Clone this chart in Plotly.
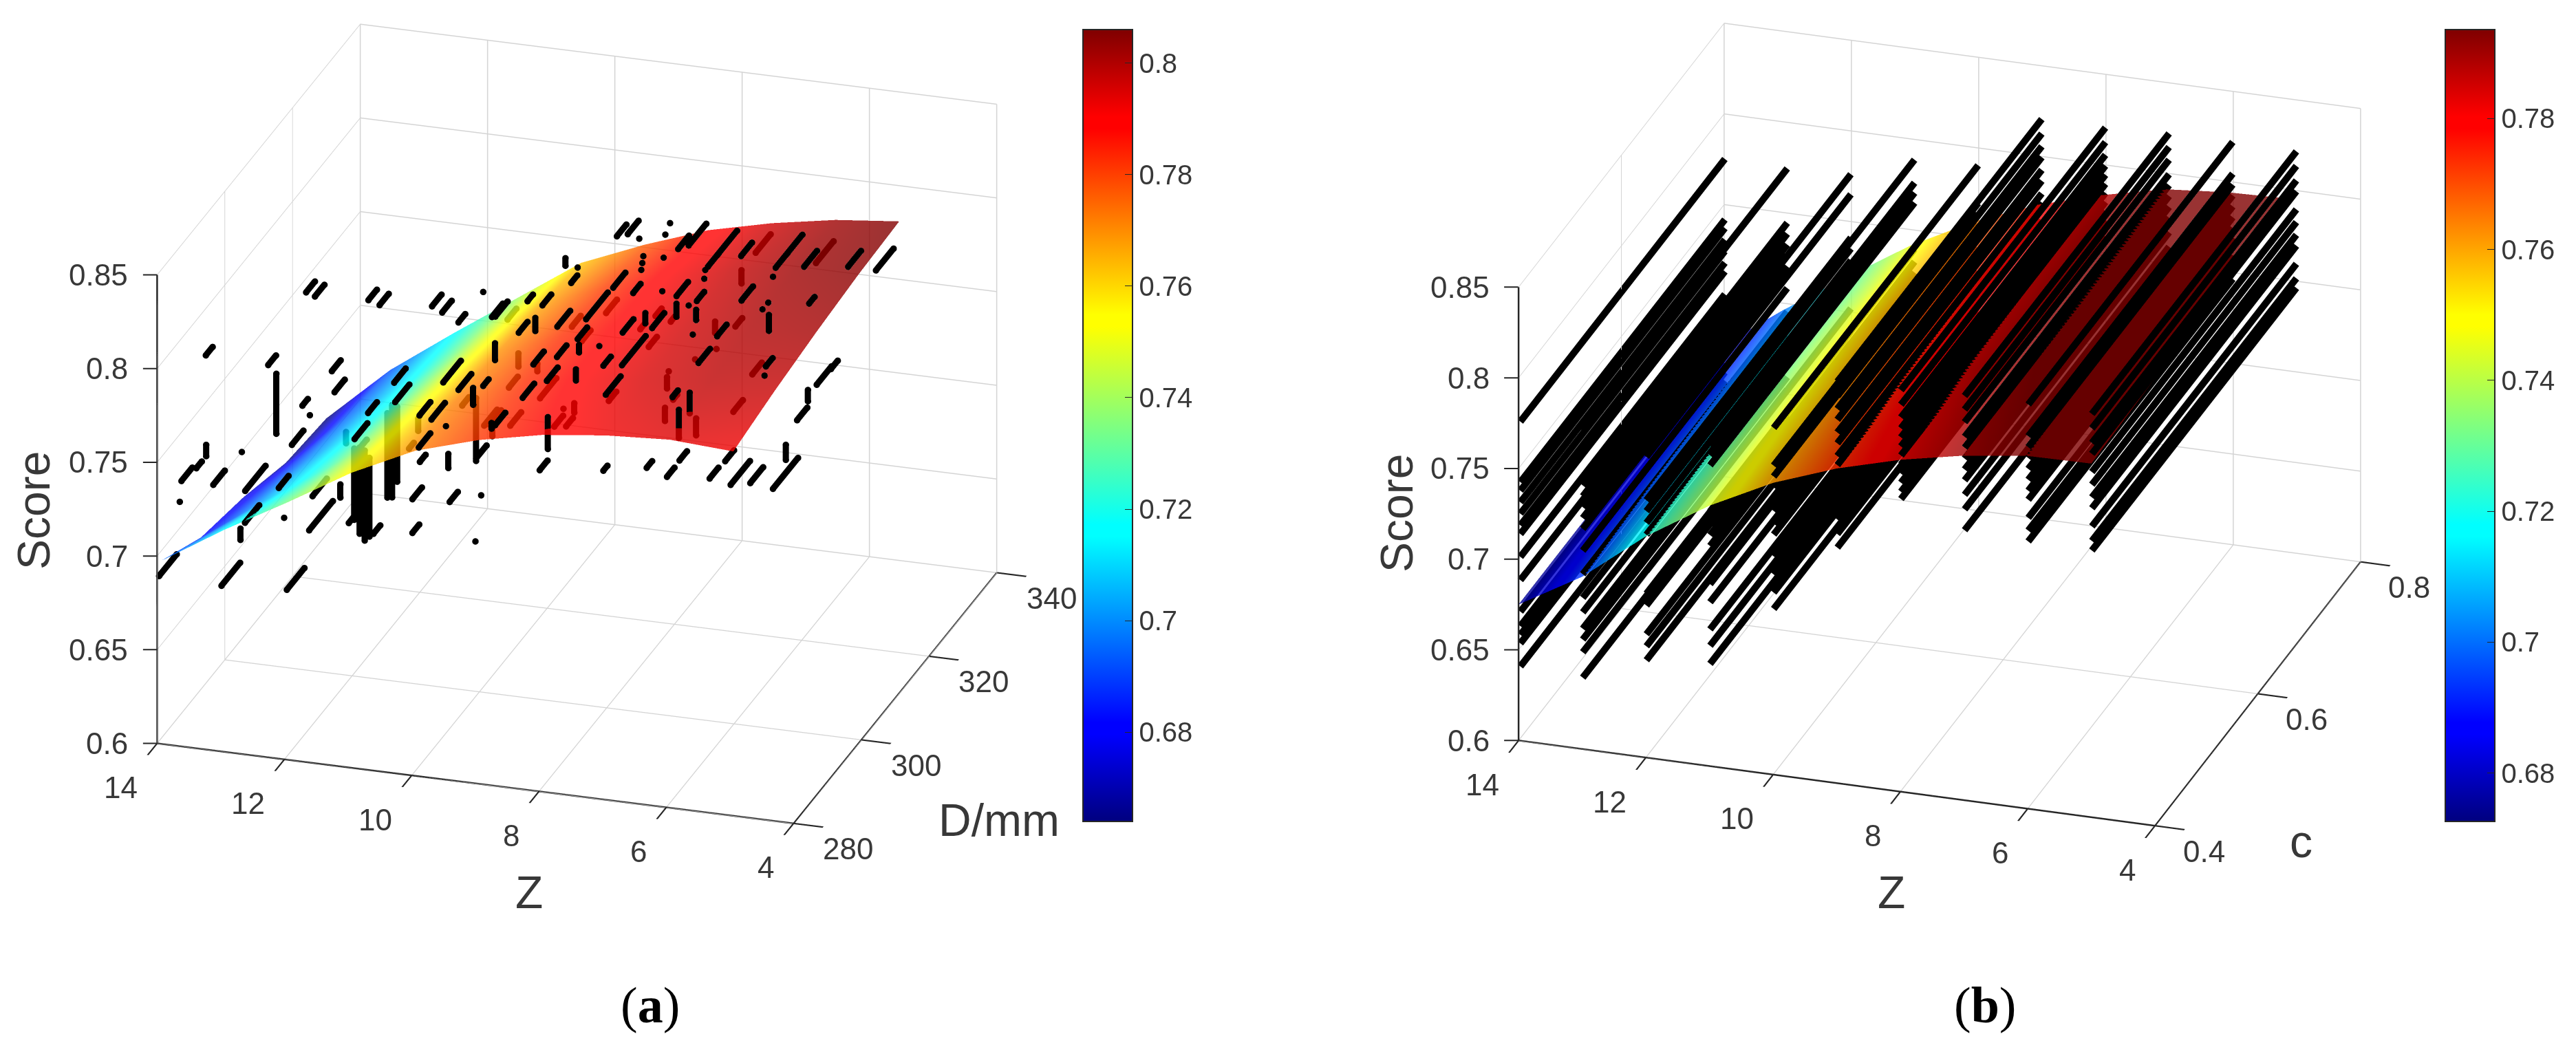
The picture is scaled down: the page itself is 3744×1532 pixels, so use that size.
import numpy as np
import plotly.graph_objects as go

z_values = [14, 13, 12, 11, 10, 9, 8, 7, 6, 5]

# panel (a) surface: score by Z (rows) and D (columns)
d_values = [281, 293, 305.5, 318, 330]
score_a = [
    [0.695, 0.681, 0.6745, 0.665, 0.662],
    [0.716, 0.705, 0.699, 0.695, 0.692],
    [0.735, 0.727, 0.722, 0.718, 0.716],
    [0.755, 0.751, 0.747, 0.743, 0.739],
    [0.771, 0.771, 0.769, 0.766, 0.762],
    [0.781, 0.782, 0.782, 0.780, 0.776],
    [0.788, 0.790, 0.790, 0.790, 0.788],
    [0.792, 0.795, 0.796, 0.797, 0.796],
    [0.794, 0.798, 0.800, 0.802, 0.802],
    [0.792, 0.797, 0.801, 0.804, 0.8055],
]

# panel (a) samples: short runs along D per Z, as (D from, D to, score)
runs_a = {
    14: [(294, 296, .776), (291.2, 292.8, .722), (286.8, 290, .725), (296.2, 299.6, .702), (286.3, 286.3, .715), (280, 285.4, .689)],
    13: [(294, 296.3, .775), (286.2, 286.2, .746), (287.2, 293.2, .723), (298.7, 298.7, .683), (280, 285.7, .688)],
    12.7: [(281.5, 285.7, .72)],
    12.1: [(280, 283.1, .744)],
    12: [(294, 296.6, .776), (294.8, 297.8, .763), (285.3, 286.9, .777), (287.5, 287.5, .767), (286.4, 289, .835), (289, 291.8, .827),
         (282.2, 285.6, .763), (288.3, 292.5, .722), (287.3, 294.3, .706), (280.7, 285.9, .689), (301.7, 304.3, .7165)],
    11: [(286, 288.5, .836), (289.3, 292, .826), (281.9, 285.7, .771), (285.9, 288.5, .776), (293.6, 297, .775), (293.9, 298.1, .764),
         (280, 281.7, .73), (287.5, 289.5, .708), (298, 299.4, .73), (313.7, 315.7, .718), (327.1, 329.7, .734)],
    10: [(286, 288.8, .837), (289, 291.8, .827), (301.1, 301.1, .811), (293.8, 295.8, .811), (289.3, 294.5, .789), (293.8, 297.6, .775),
         (282.3, 285.5, .787), (285.8, 289.8, .777), (280, 283, .747), (291.2, 293.6, .721), (280, 282.2, .729), (298.8, 298.8, .683),
         (282.4, 284.1, .762), (303, 306.4, .736), (327.3, 329.9, .734), (308.7, 311.3, .743), (301.4, 305.2, .739)],
    9.9: [(280, 283.6, .775)],
    9.5: [(280.7, 280.7, .787)],
    9: [(284.9, 288.1, .838), (282.3, 283.9, .807), (281.7, 281.7, .75), (280, 283.3, .773), (318.6, 321.8, .765), (308.3, 310.1, .804),
        (310.2, 310.2, .808), (299.8, 302.4, .811), (295.4, 297, .823), (285.9, 289.5, .836), (292.8, 295.4, .812), (311.4, 314, .766),
        (299.1, 303.9, .763), (290.3, 293.5, .768), (303.3, 305.9, .7385), (306, 306, .742)],
    8.7: [(280, 283.2, .792)],
    8.3: [(280.8, 284.2, .807)],
    8.1: [(280.1, 283.3, .827)],
    8: [(303, 305.8, .845), (306.2, 309.4, .839), (309.6, 309.6, .829), (318.7, 318.7, .817), (317.3, 317.3, .814), (310.8, 310.8, .817),
        (310.5, 310.5, .814), (310.2, 310.2, .811), (307.8, 310, .804), (301.9, 305.5, .82), (293.9, 300.3, .821), (285.4, 289.2, .836),
        (291.4, 294.2, .816), (297.8, 297.8, .798), (314.4, 316.2, .777), (309.9, 311.1, .78), (318.9, 320.1, .764), (300.6, 302.8, .7625),
        (312.4, 314.8, .765), (285.3, 288.1, .82), (282.3, 285.5, .814), (288, 290, .777), (280, 282.5, .771)],
    7: [(305.4, 310.6, .839), (302.3, 305.5, .844), (313.9, 319.7, .815), (311.1, 314.3, .815), (310.3, 310.3, .815), (310, 310, .811),
        (325.2, 329.6, .791), (319.2, 321.2, .765), (313.6, 313.6, .7655), (307.3, 307.3, .774), (300.8, 302, .767), (299.5, 299.5, .785),
        (301.8, 305.2, .82), (297.6, 297.6, .832), (298, 298, .849), (285.9, 289.1, .836), (294.6, 298.2, .819), (305.4, 305.4, .807),
        (307.8, 310, .804), (280.9, 285.3, .814), (280, 282.4, .831), (285.7, 292.7, .819), (280, 281.4, .775), (293, 294.6, .748)],
    6: [(302.1, 305.3, .845), (315.8, 320.2, .816), (312.3, 315.5, .816), (311.5, 311.5, .813), (324.2, 329.4, .792), (302.2, 305.6, .821),
        (295, 297.8, .818), (287.8, 287.8, .835), (289.5, 292.9, .816), (305.4, 308.2, .7745), (299.8, 302.6, .767), (281.8, 283.4, .815),
        (283.9, 286.1, .7765), (280, 282.4, .776), (297.4, 300, .746), (292.8, 295.4, .747)],
    5: [(301.9, 305.7, .844), (303.4, 305, .821), (291.3, 291.3, .8485), (289.6, 289.6, .8487), (290.6, 292.6, .816), (290.2, 290.2, .812),
        (280, 285.9, .776), (286, 289.8, .764), (292.7, 300.1, .746), (314.9, 318.7, .815)],
    4: [(281.4, 284.4, .812), (287.2, 291.6, .818), (291.4, 293.4, .817), (304.7, 309.9, .84)],
}

# panel (a) samples: runs in score at one (Z, D), as (D, score from, score to)
stripes_a = {
    14: [(294.1, .728, .722)],
    13: [(296.4, .765, .733), (285.8, .706, .70), (317, .688, .682)],
    12: [(296.5, .71, .703), (300.6, .72, .682), (302.2, .717, .671), (303.7, .712, .664), (305.1, .705, .663),
         (311.8, .718, .669), (310.4, .717, .672), (313.3, .714, .674)],
    11: [(300.7, .74, .7335)],
    10: [(299, .759, .7255), (290.8, .7475, .74), (311.5, .755, .748), (317.1, .737, .733), (303.8, .733, .728)],
    9.1: [(281.2, .808, .799)],
    9: [(285.8, .822, .813), (306.6, .821, .817), (297.7, .809, .802)],
    8.8: [(281, .791, .788)],
    8: [(291.8, .812, .808), (290.9, .801, .795), (282.6, .794, .777), (290.4, .784, .779)],
    7: [(321, .791, .784), (313.2, .781, .775), (299, .783, .777), (298.4, .768, .761), (292.6, .8315, .826), (301.8, .816, .809)],
    6: [(286.9, .806, .795), (288.8, .788, .779), (283.7, .804, .789), (288.8, .846, .8405)],
    5: [(291.5, .8415, .833), (296.5, .761, .753)],
    4: [(284.6, .821, .815)],
}

# panel (b) surface: score by Z (rows) and c (columns)
c_values = [0.4, 0.53, 0.66, 0.79]
score_b = [
    [0.675, 0.675, 0.675, 0.675],
    [0.695, 0.697, 0.698, 0.700],
    [0.722, 0.723, 0.724, 0.723],
    [0.7436, 0.745, 0.746, 0.745],
    [0.7609, 0.762, 0.764, 0.763],
    [0.7735, 0.776, 0.777, 0.777],
    [0.783, 0.786, 0.787, 0.787],
    [0.790, 0.793, 0.794, 0.795],
    [0.7945, 0.797, 0.798, 0.798],
    [0.795, 0.797, 0.798, 0.799],
]

# panel (b) black lines, running along c: scores per Z
line_ends_c = [0.401, 0.799]
lines_b = {
    14: [.7756, .7422, .7375, .7311, .7248, .7184, .7136, .701, .6882, .6708, .6628, .658, .6533, .6406],
    13: [.775, .745, .739, .733, .727, .721, .709, .696, .683, .675, .666, .66, .653, .639],
    12: [.7765, .7654, .7415, .7355, .729, .7225, .7025, .69, .6835, .6676, .661, .6533],
    11: [.7892, .7765, .771, .7655, .74, .733, .727, .721, .7, .69, .675, .666, .656],
    10: [.7908, .770, .764, .758, .751, .745, .738, .732, .72, .71, .70, .691],
    9: [.821, .813, .806, .80, .793, .787, .78, .775, .765, .755, .745, .737, .7295],
    8: [.821, .813, .806, .80, .795, .79, .785, .78, .775, .77, .765, .761],
    7: [.8225, .815, .808, .80, .794, .788, .782, .776, .768, .76, .7485],
    6: [.8225, .805, .799, .793, .787, .781, .775, .77, .76, .753, .747],
    5: [.822, .814, .806, .80, .79, .783, .776, .77, .76, .752, .7467],
}

z_ticks = [14, 12, 10, 8, 6, 4]
d_ticks = [280, 300, 320, 340]
c_ticks = ["0.4", "0.6", "0.8"]
score_ticks = ["0.6", "0.65", "0.7", "0.75", "0.8", "0.85"]
cbar_ticks_a = ["0.68", "0.7", "0.72", "0.74", "0.76", "0.78", "0.8"]
cbar_ticks_b = ["0.68", "0.7", "0.72", "0.74", "0.76", "0.78"]

jet = [
    [0, "#00007f"], [0.11, "#0000ff"], [0.125, "#0000ff"], [0.36, "#00ffff"], [0.375, "#00ffff"],
    [0.625, "#ffff00"], [0.64, "#ffff00"], [0.875, "#ff0000"], [0.89, "#ff0000"], [1, "#7f0000"],
]
TEXT = "#383838"
AXIS = "#262626"
FONT = "Liberation Sans"
flat = dict(ambient=1, diffuse=0, specular=0, roughness=1, fresnel=0)


def axis(rng, ticks, tick_side="outside"):
    return dict(
        range=rng, tickvals=ticks, title=dict(text=""), showticklabels=False,
        showbackground=False, showgrid=True, gridcolor="#d4d4d4", gridwidth=3,
        showline=True, linecolor=AXIS, linewidth=5, zeroline=False,
        ticks=tick_side, ticklen=45, tickcolor=AXIS, tickwidth=5, showspikes=False,
    )


def view(az, el, r):
    az, el = np.radians(az), np.radians(el)
    return dict(
        projection=dict(type="orthographic"), up=dict(x=0, y=0, z=1), center=dict(x=0, y=0, z=0),
        eye=dict(x=r * np.cos(el) * np.cos(az), y=r * np.cos(el) * np.sin(az), z=r * np.sin(el)),
    )


def tick_notes(y_min, y_labels, y_vals, yx_shift, font_size=44):
    notes = []
    font = dict(family=FONT, size=font_size, color=TEXT)
    for s in score_ticks:
        notes.append(dict(x=14, y=y_min, z=float(s), text=s, showarrow=False, xanchor="right", xshift=-40, font=font))
        # the score ticks point straight left, which the scene's own ticks cannot do
        notes.append(dict(x=14, y=y_min, z=float(s), text=" ", showarrow=True, arrowhead=0, arrowwidth=2,
                          arrowcolor=AXIS, ax=-22, ay=0, font=dict(size=1)))
    for z in z_ticks:
        notes.append(dict(x=z, y=y_min, z=0.6, text=str(z), showarrow=False, xanchor="right", xshift=-26, yshift=-64, font=font))
    for v, t in zip(y_vals, y_labels):
        notes.append(dict(x=4, y=v, z=0.6, text=t, showarrow=False, xanchor="left", xshift=yx_shift, yshift=-37, font=font))
    return notes


def colorbar(left, ticks):
    return dict(
        x=left / 3744, xanchor="left", xpad=0, y=1 - 1194 / 1532, yanchor="bottom", ypad=0, len=1151 / 1532,
        thickness=72, outlinecolor=AXIS, outlinewidth=2, tickvals=[float(t) for t in ticks], ticktext=ticks,
        ticks="inside", ticklen=12, tickcolor=AXIS, tickfont=dict(family=FONT, size=40, color=TEXT),
    )


fig = go.Figure()

# marks on the very edge of the axis range get clipped, so nudge them just inside
px, py, ps = [], [], []
for z, rows in runs_a.items():
    z = min(max(z, 4.02), 13.98)
    for d1, d2, s in rows:
        px += [z, z, None]
        py += [max(d1, 280.2), d2, None]
        ps += [s, s, None]
for z, rows in stripes_a.items():
    z = min(max(z, 4.02), 13.98)
    for d, s1, s2 in rows:
        px += [z, z, None]
        py += [d, d, None]
        ps += [s1, s2, None]
fig.add_trace(go.Scatter3d(x=px, y=py, z=ps, mode="lines+markers", scene="scene", hoverinfo="skip", showlegend=False,
                           line=dict(color="black", width=18), marker=dict(color="black", size=5.5)))

fig.add_trace(go.Surface(
    x=z_values, y=d_values, z=np.array(score_a).T, surfacecolor=np.array(score_a).T, scene="scene",
    colorscale=jet, cmin=0.664, cmax=0.806, opacity=0.8, hoverinfo="skip", lighting=flat,
    colorbar=colorbar(1574, cbar_ticks_a),
))

# panel (b) lines
line_z, line_c, line_s = [], [], []
for z, scores in lines_b.items():
    z = min(z, 13.98)
    for s in scores:
        line_z += [z, z, None]
        line_c += [line_ends_c[0], line_ends_c[1], None]
        line_s += [s, s, None]
fig.add_trace(go.Scatter3d(x=line_z, y=line_c, z=line_s, mode="lines", scene="scene2", hoverinfo="skip", showlegend=False,
                           line=dict(color="black", width=20)))

fig.add_trace(go.Surface(
    x=z_values, y=c_values, z=np.array(score_b).T, surfacecolor=np.array(score_b).T, scene="scene2",
    colorscale=jet, cmin=0.6726, cmax=0.7936, opacity=0.8, hoverinfo="skip", lighting=flat,
    colorbar=colorbar(3554, cbar_ticks_b),
))

title_font = dict(family=FONT, size=66, color=TEXT)
caption_font = dict(family="Liberation Serif", size=74, color="black")
paper = dict(xref="paper", yref="paper", showarrow=False, xanchor="center", yanchor="middle")


def note(x, y, text, font, **kw):
    return dict(x=x / 3744, y=1 - y / 1532, text=text, font=font, **paper, **kw)


fig.update_layout(
    width=3744, height=1532, margin=dict(l=0, r=0, t=0, b=0),
    paper_bgcolor="white", showlegend=False,
    scene=dict(
        domain=dict(x=[0, 1677 / 3744], y=[1 - 1232 / 1532, 1]),
        xaxis=axis([14, 4], z_ticks), yaxis=axis([280, 340], d_ticks),
        zaxis=axis([0.6, 0.85], [float(s) for s in score_ticks], ""),
        aspectmode="manual", aspectratio=dict(x=1.5763, y=1.5763, z=1.2027),
        camera=view(-72.3, 23.2, 3),
        annotations=tick_notes(280, [str(d) for d in d_ticks], d_ticks, 41),
    ),
    scene2=dict(
        domain=dict(x=[2018.5 / 3744, 3618.5 / 3744], y=[1 - 1234 / 1532, 1]),
        xaxis=axis([14, 4], z_ticks), yaxis=axis([0.4, 0.8], [float(c) for c in c_ticks]),
        zaxis=axis([0.6, 0.85], [float(s) for s in score_ticks], ""),
        aspectmode="manual", aspectratio=dict(x=1.5754, y=1.5754, z=1.1737),
        camera=view(-72.1, 24.5, 3),
        annotations=tick_notes(0.4, c_ticks, [float(c) for c in c_ticks], 39),
    ),
    annotations=[
        note(49, 742, "Score", title_font, textangle=-90),
        note(769, 1297, "Z", title_font),
        note(1452, 1192, "D/mm", title_font),
        note(2030, 746, "Score", title_font, textangle=-90),
        note(2749, 1297, "Z", title_font),
        note(3344, 1223, "c", title_font),
        note(945, 1461, "(<b>a</b>)", caption_font),
        note(2885, 1461, "(<b>b</b>)", caption_font),
    ],
)

fig.write_html("out.html", config=dict(displayModeBar=False), post_script="document.body.style.margin='0';")
